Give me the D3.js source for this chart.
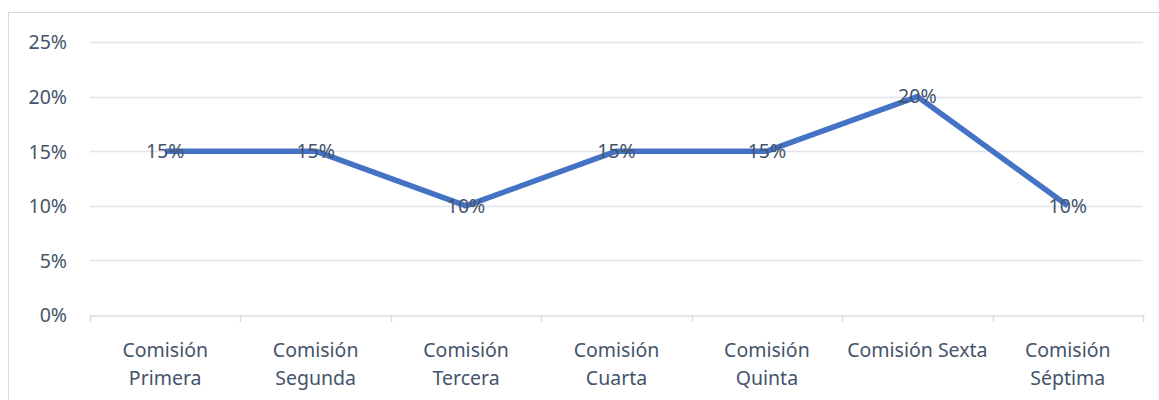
<!DOCTYPE html>
<html><head><meta charset="utf-8">
<script src="https://cdn.jsdelivr.net/npm/d3@7"></script>
<style>body{margin:0;background:#fff}svg{display:block}</style>
</head><body><svg id="c" width="1159" height="400"></svg>
<script>
const categories = ["Comisión Primera","Comisión Segunda","Comisión Tercera","Comisión Cuarta","Comisión Quinta","Comisión Sexta","Comisión Séptima"];
const tickLabels = [["Comisión","Primera"],["Comisión","Segunda"],["Comisión","Tercera"],["Comisión","Cuarta"],["Comisión","Quinta"],["Comisión Sexta"],["Comisión","Séptima"]];
const values = [0.15,0.15,0.10,0.15,0.15,0.20,0.10];
const yTicks = [0,0.05,0.10,0.15,0.20,0.25];

const svg = d3.select("#c");
const font = "'Noto Sans', sans-serif";
const fs = 19.5;
const textColor = "#44546a";
const m = {left:90, right:1143, top:42, bottom:315};

svg.append("rect").attr("x",8.5).attr("y",12.5).attr("width",1160).attr("height",400)
  .attr("fill","none").attr("stroke","#d9d9d9");

const x = d3.scaleBand().domain(categories).range([m.left,m.right]).padding(0);
const y = d3.scaleLinear().domain([0,0.25]).range([m.bottom,m.top]);

svg.append("g").selectAll("line").data(yTicks.filter(d=>d>0)).join("line")
  .attr("x1",m.left).attr("x2",m.right)
  .attr("y1",d=>Math.round(y(d))+0.5).attr("y2",d=>Math.round(y(d))+0.5)
  .attr("stroke","#e1e4ea").attr("stroke-width",1.5);

const yAxis = d3.axisLeft(y).tickValues(yTicks).tickFormat(d3.format(".0%")).tickSize(0).tickPadding(0);
const gy = svg.append("g").attr("transform",`translate(${m.left-23},0)`).call(yAxis);
gy.select(".domain").remove();
gy.selectAll("text").attr("font-family",font).attr("font-size",fs).attr("fill",textColor).attr("dy","0.35em");

const xAxis = d3.axisBottom(x).tickSize(0).tickFormat("");
const gx = svg.append("g").attr("transform",`translate(0,${m.bottom+0.5})`).call(xAxis);
gx.select(".domain").attr("stroke","#d9dde3").attr("stroke-width",1.5);
const bounds = categories.map(c=>x(c)).concat([m.right]);
svg.append("g").selectAll("line").data(bounds).join("line")
  .attr("x1",d=>Math.round(d)+0.5).attr("x2",d=>Math.round(d)+0.5)
  .attr("y1",m.bottom).attr("y2",m.bottom+7)
  .attr("stroke","#d9dde3").attr("stroke-width",1.5);

const lab = svg.append("g").selectAll("text").data(categories).join("text")
  .attr("x",d=>x(d)+x.bandwidth()/2).attr("y",357)
  .attr("text-anchor","middle").attr("font-family",font).attr("font-size",fs).attr("fill",textColor);
lab.each(function(d,i){
  const t = d3.select(this);
  tickLabels[i].forEach((ln,j)=>{
    t.append("tspan").attr("x",x(d)+x.bandwidth()/2).attr("dy",j===0?0:28).text(ln);
  });
});

const line = d3.line().x((d,i)=>x(categories[i])+x.bandwidth()/2).y(d=>y(d));
svg.append("path").datum(values).attr("d",line)
  .attr("fill","none").attr("stroke","#4472c4").attr("stroke-width",5.5).attr("stroke-linejoin","round");

svg.append("g").selectAll("text").data(values).join("text")
  .attr("x",(d,i)=>x(categories[i])+x.bandwidth()/2).attr("y",d=>y(d))
  .attr("dy","0.35em").attr("text-anchor","middle")
  .attr("font-family",font).attr("font-size",fs).attr("fill",textColor)
  .text(d3.format(".0%"));
</script></body></html>
